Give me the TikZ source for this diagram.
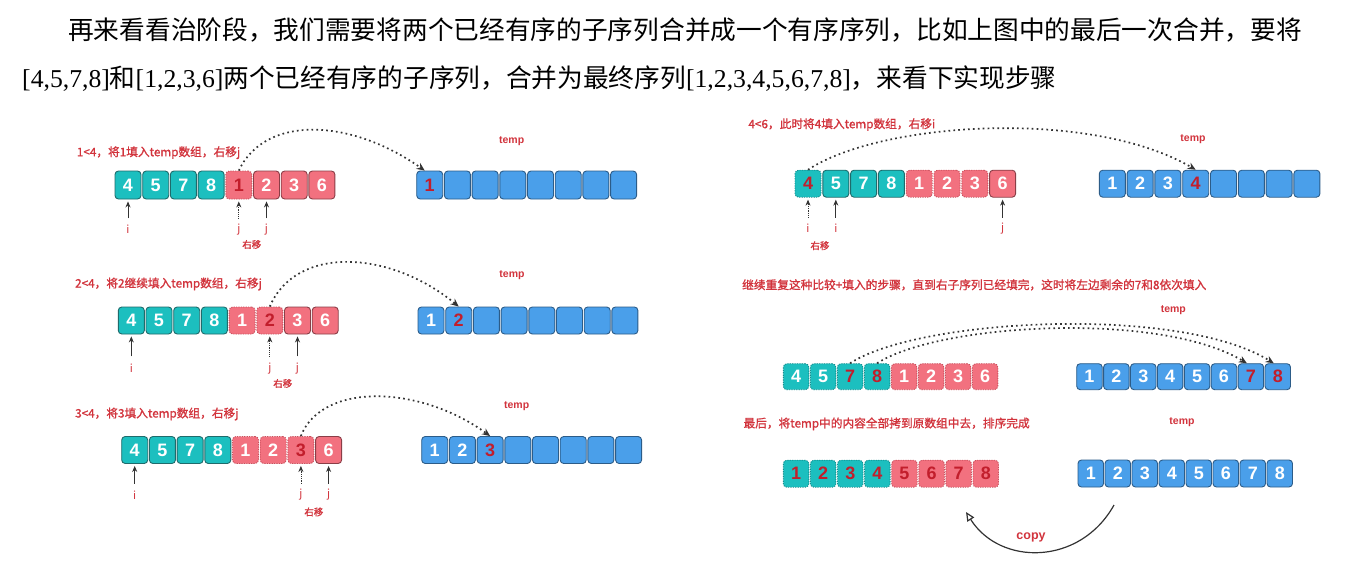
\documentclass[tikz,border=0pt]{standalone}
\usepackage{fontspec}
\usepackage{graphicx}
\setmainfont{Liberation Serif}
\newfontfamily\cjk{Noto Sans CJK SC}
\newfontfamily\cjkm[FakeBold=1.2]{Noto Sans CJK SC}
\newfontfamily\dig{Liberation Sans}
\usetikzlibrary{arrows.meta}
\definecolor{tealF}{HTML}{1CBFBF}
\definecolor{tealD}{HTML}{1F6B6B}
\definecolor{tealDash}{HTML}{168C8C}
\definecolor{pinkF}{HTML}{F2717F}
\definecolor{pinkD}{HTML}{8A3E47}
\definecolor{pinkDash}{HTML}{C9505D}
\definecolor{blueF}{HTML}{4A9FEA}
\definecolor{blueD}{HTML}{2C5C88}
\definecolor{labred}{HTML}{D2343D}
\definecolor{numred}{HTML}{C21E2C}
\definecolor{ink}{HTML}{333333}
\tikzset{
 apply/.code={\edef\tmpst{#1}\expandafter\pgfkeysalso\expandafter{\tmpst}},
 cell/.style={rounded corners=3.5pt, inner sep=0pt, line width=0.9pt, font=\dig\bfseries\fontsize{18}{18}\selectfont},
 cellT/.style={fill=tealF, draw=tealD},
 cellTd/.style={fill=tealF, draw=tealDash, dash pattern=on 1.2pt off 1.2pt},
 cellP/.style={fill=pinkF, draw=pinkD},
 cellPd/.style={fill=pinkF, draw=pinkDash, dash pattern=on 1.2pt off 1.2pt},
 cellB/.style={fill=blueF, draw=blueD},
 lab/.style={text=labred, inner sep=0pt, font=\cjkm\fontsize{11.7}{12}\selectfont, anchor=base west},
 tmplab/.style={text=labred, inner sep=0pt, font=\dig\bfseries\fontsize{10.5}{11}\selectfont},
 ij/.style={text=labred, inner sep=0pt, font=\cjk\fontsize{11}{11}\selectfont},
 yy/.style={text=labred, inner sep=0pt, font=\cjkm\fontsize{9.5}{10}\selectfont},
 ptr/.style={draw=ink, line width=0.8pt, -{Stealth[length=6pt,width=5pt]}},
 ptrd/.style={ptr, dash pattern=on 0.8pt off 1pt},
 arc/.style={draw=ink, line width=1.7pt, dash pattern=on 1.7pt off 3.2pt, -{Stealth[length=8pt,width=7pt]}},
 copyarr/.style={draw=ink, line width=1.2pt, -{Triangle[open,length=9pt,width=8pt]}},
 para/.style={inner sep=0pt, anchor=base west, font=\fontsize{25.7}{30}\selectfont},
}
\newcommand\mkrow[7]{%
 \foreach \s/\n/\c [count=\k] in {#7} {
  \node[cell, apply=\s, minimum width=#5, minimum height=#6, text=\c] (#1\k) at ({#2+#5/2+(\k-1)*#4}, #3) {\n};
 }}
\begin{document}
\begin{tikzpicture}[x=1pt,y=-1pt]
\useasboundingbox[fill=white] (0,0) rectangle (1351,563);
% paragraph
\node[para] (p1) at (68,39.3) {\cjk 再来看看治阶段，我们需要将两个已经有序的子序列合并成一个有序序列，比如上图中的最后一次合并，要将};
\node[para] (p2) at (22,87.3) {[4,5,7,8]{\cjk 和}[1,2,3,6]{\cjk 两个已经有序的子序列，合并为最终序列}[1,2,3,4,5,6,7,8]{\cjk ，来看下实现步骤}};

% ---------- left row 1
\node[lab] (L1) at (76.7,156.2) {1<4，将1填入temp数组，右移j};
\mkrow{r1c}{115}{185}{27.7}{26}{28}{cellT/4/white,cellT/5/white,cellT/7/white,cellT/8/white,cellPd/1/numred,cellP/2/white,cellP/3/white,cellP/6/white}
\node[tmplab] (T1) at (511.7,140.7) {temp};
\mkrow{t1c}{416.7}{185}{27.7}{26}{28}{cellB/1/numred,cellB/{}/white,cellB/{}/white,cellB/{}/white,cellB/{}/white,cellB/{}/white,cellB/{}/white,cellB/{}/white}
\node[ij] (i1) at ([yshift=-30pt]r1c1.south) {i};
\draw[ptr] ([yshift=11pt]i1.center) -- ([yshift=-2pt]r1c1.south);
\node[ij] (j1a) at ([yshift=-30pt]r1c5.south) {j};
\draw[ptrd] ([yshift=11pt]j1a.center) -- ([yshift=-2pt]r1c5.south);
\node[ij] (j1b) at ([yshift=-30pt]r1c6.south) {j};
\draw[ptr] ([yshift=11pt]j1b.center) -- ([yshift=-2pt]r1c6.south);
\node[yy] (y1) at ([xshift=13pt,yshift=-15pt]j1a.center) {右移};
\draw[arc] (r1c5.north) .. controls (265,115) and (350,118) .. ([xshift=-5pt]t1c1.north);

% ---------- left row 2
\node[lab] (L2) at (75,287.5) {2<4，将2继续填入temp数组，右移j};
\mkrow{r2c}{118.3}{320.5}{27.7}{26}{27}{cellT/4/white,cellT/5/white,cellT/7/white,cellT/8/white,cellPd/1/white,cellPd/2/numred,cellP/3/white,cellP/6/white}
\node[tmplab] (T2) at (512,275) {temp};
\mkrow{t2c}{418}{320.5}{27.7}{26}{27}{cellB/1/white,cellB/2/numred,cellB/{}/white,cellB/{}/white,cellB/{}/white,cellB/{}/white,cellB/{}/white,cellB/{}/white}
\node[ij] (i2) at ([yshift=-34pt]r2c1.south) {i};
\draw[ptr] ([yshift=12pt]i2.center) -- ([yshift=-2pt]r2c1.south);
\node[ij] (j2a) at ([yshift=-34pt]r2c6.south) {j};
\draw[ptrd] ([yshift=12pt]j2a.center) -- ([yshift=-2pt]r2c6.south);
\node[ij] (j2b) at ([yshift=-34pt]r2c7.south) {j};
\draw[ptr] ([yshift=12pt]j2b.center) -- ([yshift=-2pt]r2c7.south);
\node[yy] (y2) at ([xshift=13pt,yshift=-15pt]j2a.center) {右移};
\draw[arc] (r2c6.north) .. controls (296,245) and (390,250) .. (t2c2.north);

% ---------- left row 3
\node[lab] (L3) at (75,417.5) {3<4，将3填入temp数组，右移j};
\mkrow{r3c}{121.7}{450}{27.7}{26}{27}{cellT/4/white,cellT/5/white,cellT/7/white,cellT/8/white,cellPd/1/white,cellPd/2/white,cellPd/3/numred,cellP/6/white}
\node[tmplab] (T3) at (516.7,405.7) {temp};
\mkrow{t3c}{421.7}{450}{27.7}{26}{27}{cellB/1/white,cellB/2/white,cellB/3/numred,cellB/{}/white,cellB/{}/white,cellB/{}/white,cellB/{}/white,cellB/{}/white}
\node[ij] (i3) at ([yshift=-31pt]r3c1.south) {i};
\draw[ptr] ([yshift=11pt]i3.center) -- ([yshift=-2pt]r3c1.south);
\node[ij] (j3a) at ([yshift=-31pt]r3c7.south) {j};
\draw[ptrd] ([yshift=11pt]j3a.center) -- ([yshift=-2pt]r3c7.south);
\node[ij] (j3b) at ([yshift=-31pt]r3c8.south) {j};
\draw[ptr] ([yshift=11pt]j3b.center) -- ([yshift=-2pt]r3c8.south);
\node[yy] (y3) at ([xshift=13pt,yshift=-17pt]j3a.center) {右移};
\draw[arc] (r3c7.north) .. controls (322,382) and (420,385) .. (t3c3.north);

% ---------- right row 1
\node[lab] (R1) at (748.3,128.2) {4<6，此时将4填入temp数组，右移i};
\mkrow{r4c}{795}{183.7}{27.8}{26}{27}{cellTd/4/numred,cellT/5/white,cellT/7/white,cellT/8/white,cellPd/1/white,cellPd/2/white,cellPd/3/white,cellP/6/white}
\node[tmplab] (T4) at (1193,139.3) {temp};
\mkrow{t4c}{1099.3}{183.7}{27.8}{26}{27}{cellB/1/white,cellB/2/white,cellB/3/white,cellB/4/numred,cellB/{}/white,cellB/{}/white,cellB/{}/white,cellB/{}/white}
\node[ij] (i4a) at ([yshift=-31pt]r4c1.south) {i};
\draw[ptrd] ([yshift=11pt]i4a.center) -- ([yshift=-2pt]r4c1.south);
\node[ij] (i4b) at ([yshift=-31pt]r4c2.south) {i};
\draw[ptr] ([yshift=11pt]i4b.center) -- ([yshift=-2pt]r4c2.south);
\node[ij] (j4) at ([yshift=-31pt]r4c8.south) {j};
\draw[ptr] ([yshift=11pt]j4.center) -- ([yshift=-2pt]r4c8.south);
\node[yy] (y4) at ([xshift=12pt,yshift=-17pt]i4a.center) {右移};
\draw[arc] (r4c1.north) .. controls (880,122) and (1090,108) .. (t4c4.north);

% ---------- right row 2
\node[lab] (R2) at (742,289.2) {继续重复这种比较+填入的步骤，直到右子序列已经填完，这时将左边剩余的7和8依次填入};
\mkrow{r5c}{783.3}{376.7}{27}{25.5}{26}{cellTd/4/white,cellTd/5/white,cellTd/7/numred,cellTd/8/numred,cellPd/1/white,cellPd/2/white,cellPd/3/white,cellPd/6/white}
\node[tmplab] (T5) at (1173.3,310) {temp};
\mkrow{t5c}{1076.7}{376.7}{26.9}{25.5}{26}{cellB/1/white,cellB/2/white,cellB/3/white,cellB/4/white,cellB/5/white,cellB/6/white,cellB/7/numred,cellB/8/numred}
\draw[arc] (r5c3.north) .. controls (920,318) and (1180,305) .. ([xshift=-4pt]t5c8.north);
\draw[arc] (r5c4.north) .. controls (940,323) and (1160,311) .. ([xshift=-4pt]t5c7.north);

% ---------- right row 3
\node[lab] (R3) at (743.3,427.5) {最后，将temp中的内容全部拷到原数组中去，排序完成};
\mkrow{r6c}{783.3}{473.7}{27.1}{25.5}{27}{cellTd/1/numred,cellTd/2/numred,cellTd/3/numred,cellTd/4/numred,cellPd/5/numred,cellPd/6/numred,cellPd/7/numred,cellPd/8/numred}
\node[tmplab] (T6) at (1182,421.7) {temp};
\mkrow{t6c}{1078}{473.5}{27}{25.5}{27}{cellB/1/white,cellB/2/white,cellB/3/white,cellB/4/white,cellB/5/white,cellB/6/white,cellB/7/white,cellB/8/white}
\coordinate (cpS) at (1114,505);
\coordinate (cpE) at (966,512);
\draw[copyarr] (cpS) .. controls (1080,566) and (1000,566) .. (cpE);
\node[text=labred, inner sep=0pt, font=\dig\bfseries\fontsize{12.5}{13}\selectfont] (cp) at (1031,537) {copy};
\end{tikzpicture}
\end{document}
